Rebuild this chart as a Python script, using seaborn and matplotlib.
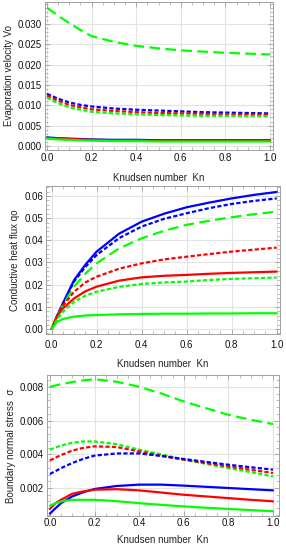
import matplotlib
matplotlib.use("Agg")
import matplotlib.pyplot as plt
import seaborn as sns
import pandas as pd
from matplotlib.ticker import MultipleLocator, AutoMinorLocator

sns.set_style("white")
plt.rcParams['font.family'] = ['Liberation Sans', 'DejaVu Sans']

kn = [0, 0.025, 0.05, 0.1, 0.15, 0.2, 0.3, 0.4, 0.5, 0.6, 0.7, 0.8, 0.9, 1.0]

# Panel 1: evaporation velocity
vo_green_long = [0.0340, 0.0330, 0.0320, 0.0302, 0.0285, 0.0270, 0.0256, 0.0246, 0.0240, 0.0235, 0.0232, 0.0229, 0.0227, 0.0225]
vo_blue_short = [0.0128, 0.0122, 0.0116, 0.0107, 0.0101, 0.0097, 0.0092, 0.0089, 0.0087, 0.0085, 0.0083, 0.0082, 0.0081, 0.0080]
vo_red_short = [0.0124, 0.0117, 0.0111, 0.0101, 0.0095, 0.0090, 0.0086, 0.0083, 0.0081, 0.0080, 0.0079, 0.0078, 0.0077, 0.0077]
vo_green_short = [0.0119, 0.0111, 0.0105, 0.0095, 0.0089, 0.0084, 0.0080, 0.0078, 0.0076, 0.0075, 0.0074, 0.0074, 0.0073, 0.0073]
vo_blue_solid = [0.0021, 0.0020, 0.0019, 0.0018, 0.0017, 0.0016, 0.0015, 0.0015, 0.0014, 0.0014, 0.0014, 0.0014, 0.0014, 0.0014]
vo_red_solid = [0.0020, 0.0019, 0.0018, 0.0017, 0.0016, 0.0015, 0.0014, 0.0014, 0.0013, 0.0013, 0.0013, 0.0013, 0.0013, 0.0013]
vo_green_solid = [0.0018, 0.0017, 0.0016, 0.0015, 0.0014, 0.0013, 0.0012, 0.0012, 0.0011, 0.0011, 0.0011, 0.0011, 0.0011, 0.0011]
vo_ticks = [0.000, 0.005, 0.010, 0.015, 0.020, 0.025, 0.030]

# Panel 2: conductive heat flux
qo_blue_solid = [0, 0.0060, 0.0116, 0.0221, 0.0290, 0.0349, 0.0430, 0.0484, 0.0520, 0.0549, 0.0570, 0.0589, 0.0605, 0.0618]
qo_blue_short = [0, 0.0060, 0.0113, 0.0214, 0.0280, 0.0334, 0.0410, 0.0462, 0.0497, 0.0522, 0.0545, 0.0564, 0.0578, 0.0589]
qo_green_long = [0, 0.0055, 0.0108, 0.0191, 0.0250, 0.0296, 0.0364, 0.0409, 0.0443, 0.0470, 0.0488, 0.0504, 0.0518, 0.0529]
qo_red_short = [0, 0.0060, 0.0105, 0.0168, 0.0210, 0.0236, 0.0272, 0.0296, 0.0314, 0.0326, 0.0338, 0.0349, 0.0358, 0.0367]
qo_red_solid = [0, 0.0058, 0.0093, 0.0138, 0.0170, 0.0191, 0.0218, 0.0233, 0.0240, 0.0244, 0.0249, 0.0253, 0.0256, 0.0259]
qo_green_short = [0, 0.0045, 0.0078, 0.0123, 0.0150, 0.0168, 0.0190, 0.0203, 0.0210, 0.0214, 0.0221, 0.0226, 0.0229, 0.0232]
qo_green_solid = [0, 0.0033, 0.0045, 0.0056, 0.0061, 0.0063, 0.0066, 0.0068, 0.0069, 0.0069, 0.0070, 0.0070, 0.0071, 0.0071]
qo_ticks = [0.00, 0.01, 0.02, 0.03, 0.04, 0.05, 0.06]

# Panel 3: boundary normal stress
s_green_long = [0.00800, 0.00808, 0.00815, 0.00828, 0.00838, 0.00845, 0.00830, 0.00800, 0.00760, 0.00713, 0.00673, 0.00634, 0.00605, 0.00579]
s_green_short = [0.00427, 0.00440, 0.00452, 0.00468, 0.00476, 0.00476, 0.00460, 0.00427, 0.00400, 0.00368, 0.00343, 0.00318, 0.00294, 0.00269]
s_red_short = [0.00364, 0.00380, 0.00395, 0.00422, 0.00438, 0.00447, 0.00443, 0.00417, 0.00390, 0.00368, 0.00348, 0.00328, 0.00308, 0.00289]
s_blue_short = [0.00283, 0.00300, 0.00318, 0.00348, 0.00373, 0.00392, 0.00405, 0.00405, 0.00390, 0.00372, 0.00355, 0.00338, 0.00323, 0.00309]
s_blue_solid = [0.00048, 0.00080, 0.00110, 0.00150, 0.00175, 0.00194, 0.00212, 0.00220, 0.00220, 0.00214, 0.00207, 0.00200, 0.00193, 0.00186]
s_red_solid = [0.00076, 0.00110, 0.00130, 0.00166, 0.00180, 0.00190, 0.00193, 0.00186, 0.00173, 0.00160, 0.00150, 0.00140, 0.00130, 0.00121]
s_green_solid = [0.00095, 0.00110, 0.00120, 0.00130, 0.00130, 0.00130, 0.00122, 0.00110, 0.00100, 0.00091, 0.00083, 0.00076, 0.00069, 0.00062]
s_ticks = [0.002, 0.004, 0.006, 0.008]

x_ticks = [0.0, 0.2, 0.4, 0.6, 0.8, 1.0]

BLUE, RED, GREEN = "#0000ff", "#ff0000", "#00ff00"
SOLID = "-"
SHORT = (0, (1.9, 1.0))
LONG = (0, (4.8, 2.4))

W, H = 286, 550
fig = plt.figure(figsize=(W / 100, H / 100), dpi=100)


def add_ax(l, r, t, b):
    return fig.add_axes([l / W, 1 - b / H, (r - l) / W, (b - t) / H])


def style(ax, xlim, ylim, yticks, ylabel, yfmt, xpad, lpad):
    ax.set_xlim(*xlim)
    ax.set_ylim(*ylim)
    ax.set_xticks(x_ticks)
    ax.xaxis.set_minor_locator(AutoMinorLocator(4))
    ax.set_yticks(yticks)
    ax.yaxis.set_minor_locator(AutoMinorLocator(5))
    ax.set_xticklabels([f"{v:.1f}" for v in x_ticks])
    ax.set_yticklabels([yfmt.format(v) for v in yticks])
    ax.grid(True, which="major", color="#e3e3e3", linewidth=0.8)
    ax.set_axisbelow(True)
    for sp in ax.spines.values():
        sp.set_color("#a0a0a0")
        sp.set_linewidth(0.7)
    ax.tick_params(which="both", direction="in", colors="#a0a0a0", labelcolor="#111111",
                   labelsize=7, top=True, right=True, bottom=True, left=True, pad=2)
    ax.tick_params(axis="x", which="major", pad=xpad)
    ax.tick_params(which="major", length=3.5, width=0.6)
    ax.tick_params(which="minor", length=2, width=0.5)
    ax.set_xlabel("Knudsen number  Kn", fontsize=7, color="#222222", labelpad=lpad)
    ax.set_ylabel(ylabel, fontsize=7, color="#222222", labelpad=3)


def draw(ax, series):
    for y, c, ls in series:
        df = pd.DataFrame({"Kn": kn, "v": y})
        sns.lineplot(data=df, x="Kn", y="v", ax=ax, color=c, linestyle=ls,
                     linewidth=1.6, legend=False)


ax1 = add_ax(45, 273, 2, 150)
draw(ax1, [
    (vo_green_long, GREEN, LONG),
    (vo_blue_short, BLUE, SHORT), (vo_red_short, RED, SHORT), (vo_green_short, GREEN, SHORT),
    (vo_blue_solid, BLUE, SOLID), (vo_red_solid, RED, SOLID), (vo_green_solid, GREEN, SOLID),
])
style(ax1, (-0.009, 1.013), (-0.001, 0.0354), vo_ticks, "Evaporation velocity Vo", "{:.3f}", 2.5, 7)

ax2 = add_ax(46, 280, 186, 334)
draw(ax2, [
    (qo_blue_solid, BLUE, SOLID), (qo_blue_short, BLUE, SHORT), (qo_green_long, GREEN, LONG),
    (qo_red_short, RED, SHORT), (qo_red_solid, RED, SOLID),
    (qo_green_short, GREEN, SHORT), (qo_green_solid, GREEN, SOLID),
])
style(ax2, (-0.025, 1.015), (-0.00226, 0.0645), qo_ticks, "Conductive heat flux qo", "{:.2f}", 4, 7)

ax3 = add_ax(47, 279, 375, 516)
draw(ax3, [
    (s_green_long, GREEN, LONG),
    (s_green_short, GREEN, SHORT), (s_red_short, RED, SHORT), (s_blue_short, BLUE, SHORT),
    (s_blue_solid, BLUE, SOLID), (s_red_solid, RED, SOLID), (s_green_solid, GREEN, SOLID),
])
style(ax3, (-0.013, 1.027), (0.00034, 0.0087), s_ticks, "Boundary normal stress  σ", "{:.3f}", 1.5, 5)

fig.savefig("out.png", dpi=100)
